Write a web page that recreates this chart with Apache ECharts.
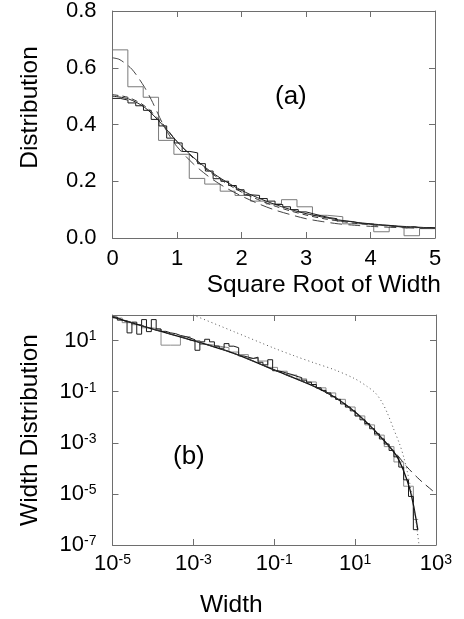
<!DOCTYPE html>
<html>
<head>
<meta charset="utf-8">
<script src="https://cdn.jsdelivr.net/npm/echarts@6/dist/echarts.min.js"></script>
<style>
  html, body { margin: 0; padding: 0; background: #fff; }
  #chart { width: 464px; height: 619px; }
</style>
</head>
<body>
<div id="chart"></div>
<script>
// ---------- Panel (a): distribution of the square root of the width ----------
const coarseEdgesA = [0, 0.238, 0.476, 0.714, 0.952, 1.19, 1.43, 1.67, 1.90, 2.14, 2.38,
  2.62, 2.86, 3.10, 3.33, 3.57, 3.81, 4.05, 4.29, 4.52, 4.76, 5.0];
const coarseDistA = [0.663, 0.533, 0.496, 0.344, 0.295, 0.210, 0.190, 0.165, 0.150, 0.130,
  0.120, 0.135, 0.110, 0.080, 0.075, 0.050, 0.050, 0.022, 0.040, 0.008, 0.033];

const fineEdgesA = [0, 0.12, 0.24, 0.36, 0.48, 0.60, 0.72, 0.84, 0.96, 1.08, 1.20, 1.32, 1.44,
  1.56, 1.68, 1.80, 1.92, 2.04, 2.16, 2.28, 2.40, 2.52, 2.64, 2.76, 2.88, 3.00, 3.12, 3.24,
  3.36, 3.48, 3.60, 3.72, 3.84, 3.96, 4.08, 4.20, 4.32, 4.44, 4.56, 4.68, 4.80, 4.92, 5.00];
const fineDistA = [0.492, 0.486, 0.476, 0.466, 0.450, 0.418, 0.395, 0.352, 0.335, 0.305,
  0.300, 0.262, 0.236, 0.209, 0.200, 0.185, 0.170, 0.152, 0.150, 0.139, 0.130, 0.118, 0.110,
  0.100, 0.092, 0.085, 0.078, 0.072, 0.068, 0.060, 0.058, 0.052, 0.050, 0.046, 0.045, 0.044,
  0.040, 0.036, 0.040, 0.034, 0.037, 0.036];

const fitXA = [0, 0.25, 0.5, 0.75, 1, 1.25, 1.5, 1.75, 2, 2.25, 2.5, 2.75, 3, 3.25, 3.5,
  3.75, 4, 4.25, 4.5, 4.75, 5];
const solidFitA = [0.500, 0.490, 0.460, 0.405, 0.340, 0.285, 0.238, 0.200, 0.168, 0.142,
  0.120, 0.101, 0.086, 0.074, 0.064, 0.056, 0.050, 0.045, 0.041, 0.038, 0.035];
const dashFitA = [0.505, 0.495, 0.465, 0.410, 0.340, 0.282, 0.234, 0.195, 0.162, 0.136,
  0.114, 0.096, 0.081, 0.069, 0.060, 0.052, 0.047, 0.043, 0.039, 0.036, 0.034];

const steepXA = [0, 0.1, 0.2, 0.3, 0.4, 0.5, 0.6, 0.7, 0.8, 0.9, 1.0, 1.25, 1.5, 1.75, 2,
  2.25, 2.5, 2.75, 3, 3.25, 3.5, 3.75, 4, 4.5, 5];
const steepFitA = [0.635, 0.630, 0.615, 0.595, 0.565, 0.530, 0.488, 0.440, 0.393, 0.355,
  0.322, 0.262, 0.215, 0.178, 0.148, 0.122, 0.100, 0.083, 0.068, 0.058, 0.050, 0.045,
  0.041, 0.036, 0.033];

const ticksXA = [0, 1, 2, 3, 4, 5];
const ticksYA = [0, 0.2, 0.4, 0.6, 0.8];

// ---------- Panel (b): width distribution, log10 of width and of density ----------
const fineLogEdgesB = [-5.00, -4.88, -4.76, -4.64, -4.52, -4.40, -4.28, -4.16, -4.04, -3.92,
  -3.80, -3.68, -3.56, -3.44, -3.32, -3.20, -3.08, -2.96, -2.84, -2.72, -2.60, -2.48, -2.36,
  -2.24, -2.12, -2.00, -1.88, -1.76, -1.64, -1.52, -1.40, -1.28, -1.16, -1.04, -0.92, -0.80,
  -0.68, -0.56, -0.44, -0.32, -0.20, -0.08, 0.04, 0.16, 0.28, 0.40, 0.52, 0.64, 0.76, 0.88,
  1.00, 1.12, 1.24, 1.36, 1.48, 1.60, 1.72, 1.84, 1.96, 2.08, 2.20, 2.32, 2.44, 2.56];
const fineLogDistB = [1.92, 1.80, 1.74, 1.30, 1.72, 1.25, 1.82, 1.35, 1.82, 1.45, 1.36, 1.30,
  1.27, 1.20, 1.16, 1.10, 1.03, 0.62, 0.95, 1.05, 0.95, 0.78, 0.70, 0.88, 0.78, 0.72, 0.40,
  0.35, 0.30, 0.35, 0.15, 0.05, 0.25, -0.18, -0.22, -0.28, -0.33, -0.40, -0.45, -0.55, -0.63,
  -0.72, -0.85, -0.95, -1.05, -1.20, -1.30, -1.48, -1.60, -1.75, -1.95, -2.10, -2.25, -2.45,
  -2.65, -2.85, -3.05, -3.30, -3.55, -3.95, -4.45, -5.10, -6.40];

const coarseLogEdgesB = [-5.00, -4.76, -4.52, -4.28, -4.04, -3.80, -3.56, -3.32, -3.08, -2.84,
  -2.60, -2.36, -2.12, -1.88, -1.64, -1.40, -1.16, -0.92, -0.68, -0.44, -0.20, 0.04, 0.28,
  0.52, 0.76, 1.00, 1.24, 1.48, 1.72, 1.96, 2.20, 2.44, 2.56];
const coarseLogDistB = [1.88, 1.70, 1.62, 1.50, 1.45, 0.82, 0.82, 1.15, 1.00, 0.85, 0.78,
  0.72, 0.55, 0.45, 0.30, 0.20, -0.05, -0.20, -0.35, -0.50, -0.62, -0.85, -1.05, -1.30,
  -1.60, -1.95, -2.30, -2.70, -3.15, -3.75, -4.70, -6.00];

const dashLogXB = [-5, -4, -3, -2, -1, 0, 0.5, 1, 1.5, 2.0, 2.28, 2.6, 2.94, 3.0];
const dashLogYB = [1.95, 1.45, 1.00, 0.50, -0.15, -0.80, -1.22, -1.80, -2.55, -3.40, -3.94,
  -4.45, -4.91, -5.00];

const solidLogXB = [-5, -4, -3, -2, -1, 0, 0.5, 1, 1.5, 2.0, 2.2, 2.35, 2.45, 2.55];
const solidLogYB = [1.93, 1.45, 1.00, 0.50, -0.15, -0.80, -1.22, -1.80, -2.55, -3.45,
  -4.10, -4.80, -5.50, -6.40];

const dotLogXB = [-3.1, -3.0, -2.0, -1.0, -0.5, 0, 0.5, 1.0, 1.3, 1.5, 1.66, 1.8, 1.95,
  2.1, 2.2, 2.3, 2.4, 2.48, 2.54, 2.58];
const dotLogYB = [2.07, 2.00, 1.35, 0.70, 0.40, 0.12, -0.15, -0.50, -0.80, -1.05, -1.40,
  -1.85, -2.45, -3.05, -3.55, -4.20, -5.00, -5.80, -6.50, -7.00];

const ticksXB = [1e-5, 1e-3, 1e-1, 1e1, 1e3];
const ticksYB = [1e-7, 1e-5, 1e-3, 1e-1, 1e1];

// ---------- helpers ----------
const FONT = 'Liberation Sans, Arial, Helvetica, sans-serif';
const FRAME = '#6e6e6e';

function histogram(edges, values) {
  const pts = values.map((v, i) => [edges[i], v]);
  pts.push([edges[values.length], values[values.length - 1]]);
  return pts;
}
function pairs(xs, ys) { return xs.map((x, i) => [x, ys[i]]); }
function pow10Pairs(pts) { return pts.map(p => [Math.pow(10, p[0]), Math.pow(10, p[1])]); }

function frameAxis(extra) {
  return Object.assign({
    axisLine: { show: true, onZero: false, lineStyle: { color: FRAME, width: 1 } },
    axisTick: { show: true, inside: true, length: 6, lineStyle: { color: FRAME, width: 1 } },
    splitLine: { show: false },
    minorTick: { show: false },
    axisLabel: { show: false }
  }, extra);
}

const labelText = { color: '#000', fontFamily: FONT, fontSize: 22 };
const powerRich = {
  b: { fontFamily: FONT, fontSize: 22, color: '#000' },
  e: { fontFamily: FONT, fontSize: 14, color: '#000', verticalAlign: 'top' }
};
function powerLabel(v) {
  const e = Math.round(Math.log10(v));
  return '{b|10}{e|' + e + '}';
}

const nameStyle = { color: '#000', fontFamily: FONT, fontSize: 24.5 };

function lineSeries(xi, yi, data, style, step) {
  return {
    type: 'line', xAxisIndex: xi, yAxisIndex: yi, data: data,
    showSymbol: false, symbol: 'none', step: step || false, silent: true,
    animation: false, clip: true,
    lineStyle: Object.assign({ width: 1, color: '#111' }, style)
  };
}

const chart = echarts.init(document.getElementById('chart'), null, { renderer: 'canvas' });

chart.setOption({
  backgroundColor: '#fff',
  animation: false,
  grid: [
    { left: 112.5, top: 10, width: 322.5, height: 228 },
    { left: 112.5, top: 315, width: 323.5, height: 230 }
  ],
  xAxis: [
    frameAxis({
      gridIndex: 0, type: 'value', position: 'bottom', min: 0, max: 5, interval: 1,
      axisLabel: Object.assign({ show: true, margin: 10, customValues: ticksXA }, labelText),
      axisTick: { show: true, inside: true, length: 6, customValues: ticksXA, lineStyle: { color: FRAME } },
      name: 'Square Root of Width', nameLocation: 'middle', nameGap: 35,
      nameTextStyle: Object.assign({ padding: [0, 0, 0, 100] }, nameStyle)
    }),
    frameAxis({ gridIndex: 0, type: 'value', position: 'top', min: 0, max: 5, interval: 1 }),
    frameAxis({
      gridIndex: 1, type: 'log', logBase: 10, position: 'bottom', min: 1e-5, max: 1e3,
      axisLabel: { show: true, margin: 8, customValues: ticksXB, formatter: powerLabel, rich: powerRich },
      axisTick: { show: true, inside: true, length: 6, customValues: ticksXB, lineStyle: { color: FRAME } },
      name: 'Width', nameLocation: 'middle', nameGap: 48,
      nameTextStyle: Object.assign({ padding: [0, 86, 0, 0] }, nameStyle)
    }),
    frameAxis({
      gridIndex: 1, type: 'log', logBase: 10, position: 'top', min: 1e-5, max: 1e3,
      axisTick: { show: true, inside: true, length: 6, customValues: ticksXB, lineStyle: { color: FRAME } }
    })
  ],
  yAxis: [
    frameAxis({
      gridIndex: 0, type: 'value', position: 'left', min: 0, max: 0.8, interval: 0.2,
      axisLabel: Object.assign({ show: true, margin: 16, customValues: ticksYA,
        formatter: v => v.toFixed(1) }, labelText),
      axisTick: { show: true, inside: true, length: 6, customValues: ticksYA, lineStyle: { color: FRAME } },
      name: 'Distribution', nameLocation: 'middle', nameGap: 70,
      nameTextStyle: Object.assign({ padding: [0, 0, 0, 34] }, nameStyle)
    }),
    frameAxis({ gridIndex: 0, type: 'value', position: 'right', min: 0, max: 0.8, interval: 0.2 }),
    frameAxis({
      gridIndex: 1, type: 'log', logBase: 10, position: 'left', min: 1e-7, max: 1e2,
      axisLabel: { show: true, margin: 16, customValues: ticksYB, formatter: powerLabel, rich: powerRich },
      axisTick: { show: true, inside: true, length: 6, customValues: ticksYB, lineStyle: { color: FRAME } },
      name: 'Width Distribution', nameLocation: 'middle', nameGap: 70,
      nameTextStyle: Object.assign({ padding: [0, 0, 0, 0] }, nameStyle)
    }),
    frameAxis({
      gridIndex: 1, type: 'log', logBase: 10, position: 'right', min: 1e-7, max: 1e2,
      axisTick: { show: true, inside: true, length: 6, customValues: ticksYB, lineStyle: { color: FRAME } }
    })
  ],
  series: [
    // panel (a)
    lineSeries(0, 0, histogram(coarseEdgesA, coarseDistA), { color: '#7a7a7a' }, 'end'),
    lineSeries(0, 0, histogram(fineEdgesA, fineDistA), { color: '#1a1a1a' }, 'end'),
    Object.assign(lineSeries(0, 0, pairs(fitXA, solidFitA), { color: '#222' }), { smooth: 0.3 }),
    Object.assign(lineSeries(0, 0, pairs(fitXA, dashFitA), { color: '#333', type: [6, 4] }), { smooth: 0.3 }),
    Object.assign(lineSeries(0, 0, pairs(steepXA, steepFitA), { color: '#444', type: [12, 6] }), { smooth: 0.3 }),
    // panel (b)
    lineSeries(2, 2, pow10Pairs(histogram(coarseLogEdgesB, coarseLogDistB)), { color: '#8a8a8a' }, 'end'),
    lineSeries(2, 2, pow10Pairs(histogram(fineLogEdgesB, fineLogDistB)), { color: '#1a1a1a' }, 'end'),
    Object.assign(lineSeries(2, 2, pow10Pairs(pairs(solidLogXB, solidLogYB)), { color: '#111', width: 1.3 }), { smooth: 0.3 }),
    Object.assign(lineSeries(2, 2, pow10Pairs(pairs(dashLogXB, dashLogYB)), { color: '#333', type: [9, 5] }), { smooth: 0.3 }),
    Object.assign(lineSeries(2, 2, pow10Pairs(pairs(dotLogXB, dotLogYB)), { color: '#555', type: [1, 3] }), { smooth: 0.3 })
  ],
  graphic: [
    { type: 'text', left: 275, top: 84, style: { text: '(a)', font: '26px ' + FONT, fill: '#000' } },
    { type: 'text', left: 173, top: 444, style: { text: '(b)', font: '26px ' + FONT, fill: '#000' } }
  ]
});
</script>
</body>
</html>
